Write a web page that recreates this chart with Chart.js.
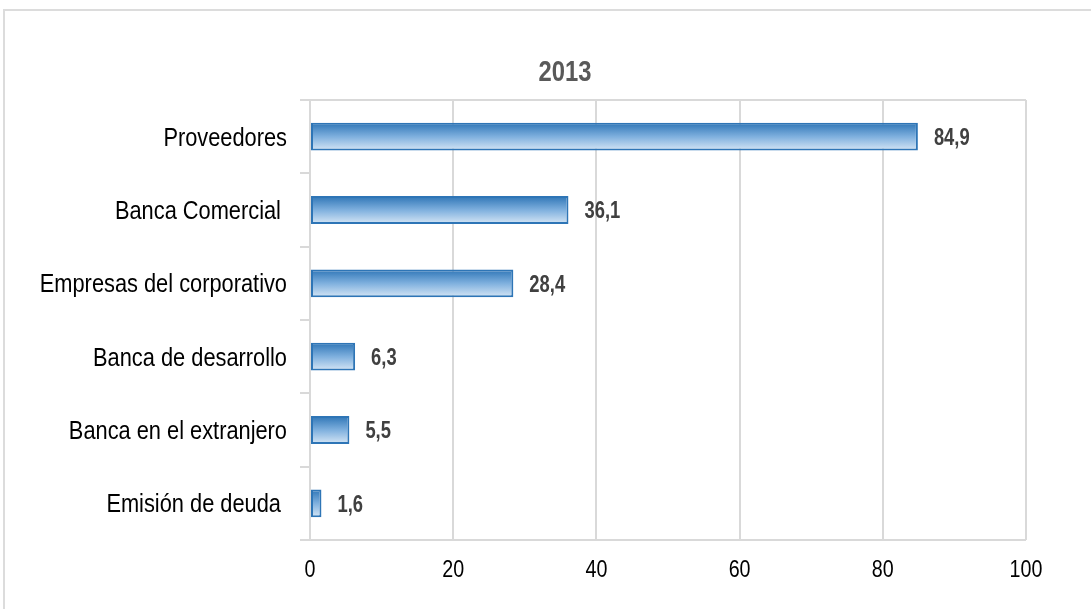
<!DOCTYPE html>
<html lang="es">
<head>
  <meta charset="UTF-8"/>
  <title>Fuentes de financiamiento 2013</title>
  <script src="https://cdn.jsdelivr.net/npm/chart.js"></script>
  <style>
    html, body { margin: 0; padding: 0; background: #fff; overflow: hidden; }
    .frame { position: absolute; left: 3px; top: 9px; width: 1200px; height: 700px;
      border: 2px solid #dcdcdc; }
    .wrap { position: absolute; left: 0; top: 0; width: 1091px; height: 609px; }
  </style>
</head>
<body>
<div class="frame"></div>
<div class="wrap"><canvas id="chart" width="1091" height="609"></canvas></div>

<script>
  const categorias = [
    'Proveedores',
    'Banca Comercial ',
    'Empresas del corporativo',
    'Banca de desarrollo',
    'Banca en el extranjero',
    'Emisión de deuda '
  ];
  const valores = [84.9, 36.1, 28.4, 6.3, 5.5, 1.6];
  const ticksX = [0, 20, 40, 60, 80, 100];
  const titulo = '2013';
  const BAR_PCT = 0.38;
  const FUENTE = '"Liberation Sans", Arial, sans-serif';

  // texto estrecho (tipo Arial Narrow) escalando en horizontal
  function textoEstrecho(ctx, txt, x, y, font, color, align, factor) {
    ctx.save();
    ctx.font = font;
    ctx.fillStyle = color;
    ctx.textAlign = align;
    ctx.textBaseline = 'middle';
    ctx.translate(x, y);
    ctx.scale(factor, 1);
    ctx.fillText(txt, 0, 0);
    ctx.restore();
  }

  // degradado vertical por barra: azul oscuro arriba, claro abajo
  function rellenoBarra(c) {
    const ch = c.chart;
    const sy = ch.scales.y;
    if (!ch.chartArea || !sy) return '#2e75b6';
    const yc = sy.getPixelForValue(c.dataIndex);
    const h = (sy.height / categorias.length) * BAR_PCT;
    const g = ch.ctx.createLinearGradient(0, yc - h / 2, 0, yc + h / 2);
    g.addColorStop(0, '#2e75b6');
    g.addColorStop(0.5, '#7fb0de');
    g.addColorStop(1, '#d6e6f5');
    return g;
  }

  // titulo, rotulos de ejes y valores de las barras
  const textos = {
    id: 'textos',
    afterDraw(chart) {
      const { ctx, chartArea, scales } = chart;
      textoEstrecho(ctx, titulo, 565, 73, 'bold 29px ' + FUENTE, '#595959', 'center', 0.82);

      categorias.forEach((cat, i) => {
        const y = scales.y.getPixelForValue(i);
        textoEstrecho(ctx, cat, 287, y + 2, '25.5px ' + FUENTE, '#000', 'right', 0.855);
      });

      ticksX.forEach(v => {
        const x = scales.x.getPixelForValue(v);
        textoEstrecho(ctx, String(v), x, chartArea.bottom + 30, '24px ' + FUENTE, '#000', 'center', 0.82);
      });

      const meta = chart.getDatasetMeta(0);
      meta.data.forEach((bar, i) => {
        const txt = valores[i].toFixed(1).replace('.', ',');
        textoEstrecho(ctx, txt, bar.x + 16, bar.y + 2, 'bold 23px ' + FUENTE, '#404040', 'left', 0.8);
      });
    }
  };

  // lineas superior e inferior del area del grafico
  const bordes = {
    id: 'bordes',
    beforeDatasetsDraw(chart) {
      const { ctx, chartArea } = chart;
      ctx.save();
      ctx.strokeStyle = '#d9d9d9';
      ctx.lineWidth = 2;
      ctx.beginPath();
      ctx.moveTo(chartArea.left, chartArea.top);
      ctx.lineTo(chartArea.right, chartArea.top);
      ctx.moveTo(chartArea.left - 10, chartArea.bottom);
      ctx.lineTo(chartArea.right, chartArea.bottom);
      ctx.stroke();
      ctx.restore();
    }
  };

  new Chart(document.getElementById('chart'), {
    type: 'bar',
    data: {
      labels: categorias,
      datasets: [{
        data: valores,
        backgroundColor: rellenoBarra,
        borderColor: '#2e75b6',
        borderWidth: 2,
        borderSkipped: false,
        categoryPercentage: 1,
        barPercentage: BAR_PCT
      }]
    },
    plugins: [textos, bordes],
    options: {
      indexAxis: 'y',
      responsive: false,
      animation: false,
      devicePixelRatio: 1,
      layout: { padding: { left: 10, right: 65, top: 100, bottom: 0 } },
      plugins: {
        legend: { display: false },
        tooltip: { enabled: false },
        title: { display: false }
      },
      scales: {
        x: {
          min: 0,
          max: 100,
          afterFit(s) { s.height = 69; },
          ticks: { stepSize: 20, display: false },
          grid: { color: '#d9d9d9', lineWidth: 2, tickLength: 0 },
          border: { display: false }
        },
        y: {
          afterFit(s) { s.width = 300; },
          ticks: { display: false },
          grid: { color: '#d9d9d9', lineWidth: 2, tickLength: 10, drawOnChartArea: false, offset: true },
          border: { color: '#d9d9d9', width: 2 }
        }
      }
    }
  });
</script>
</body>
</html>
